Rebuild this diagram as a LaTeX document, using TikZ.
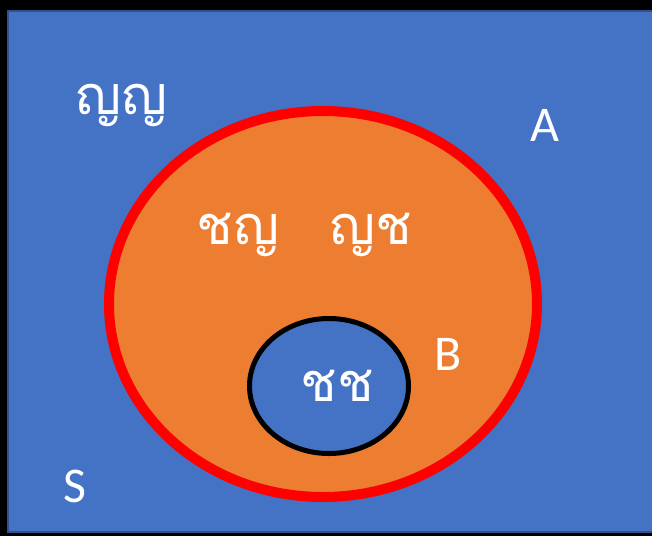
\documentclass[tikz,border=0pt]{standalone}
\usepackage{fontspec}
\setmainfont{Carlito}
\newfontfamily\thaifont[Script=Thai]{Loma}
\definecolor{bgblue}{HTML}{4472C4}
\definecolor{edgeblue}{HTML}{2F528F}
\definecolor{setorange}{HTML}{ED7D31}
\tikzset{
  lbl/.style={text=white, font=\fontsize{50}{60}\selectfont, inner sep=0pt},
  thai/.style={text=white, font=\thaifont\fontsize{54}{64}\selectfont, inner sep=0pt},
}
\begin{document}
\begin{tikzpicture}[x=1pt,y=-1pt]
\useasboundingbox (0,0) rectangle (652,536);
\fill[black] (0,0) rectangle (652,536);
\filldraw[fill=bgblue, draw=edgeblue, line width=1.5pt] (8,11) rectangle (656,532);
\filldraw[fill=setorange, draw=red, line width=10pt] (323,304) ellipse [x radius=214, y radius=193];
\filldraw[fill=bgblue, draw=black, line width=5pt] (329,386) ellipse [x radius=79.5, y radius=67.5];
\node[thai] (t1) at (122,105) {ญญ};
\node[thai] (t2) at (238,235) {ชญ};
\node[thai] (t3) at (371,235) {ญช};
\node[thai] (t4) at (337,386) {ชช};
\node[lbl] (a) at (545,125) {A};
\node[lbl] (b) at (448,354) {B};
\node[lbl] (s) at (75,486) {S};
\end{tikzpicture}
\end{document}
